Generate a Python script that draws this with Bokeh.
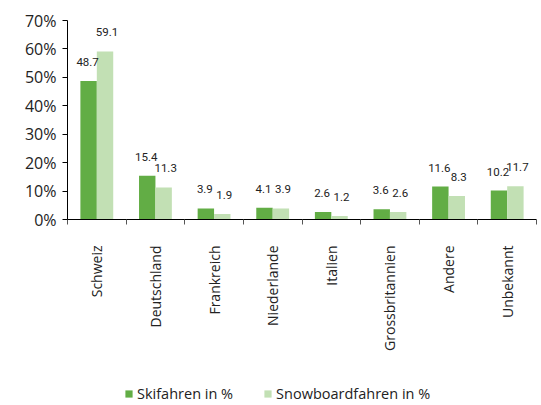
import numpy as np
from bokeh.plotting import figure
from bokeh.layouts import column
from bokeh.models import (Range1d, FixedTicker, PrintfTickFormatter, Legend, LegendItem,
                          ColumnDataSource)
from bokeh.core.properties import value
from bokeh.embed import file_html
from bokeh.resources import INLINE

categories = ["Schweiz", "Deutschland", "Frankreich", "Niederlande", "Italien",
              "Grossbritannien", "Andere", "Unbekannt"]
ski = [48.7, 15.4, 3.9, 4.1, 2.6, 3.6, 11.6, 10.2]
snowboard = [59.1, 11.3, 1.9, 3.9, 1.2, 2.6, 8.3, 11.7]
y_ticks = [0, 10, 20, 30, 40, 50, 60, 70]
series_names = ["Skifahren in %", "Snowboardfahren in %"]

SKI_COLOR = "#62AD45"
SNOW_COLOR = "#C2E0B4"
FONT = "Open Sans"
LABEL_FONT = "Roboto"

n = len(categories)
pos = np.arange(n) + 0.5
off = 0.14
bw = 0.28

p = figure(frame_width=469, frame_height=199, output_backend="svg", toolbar_location=None,
           x_range=Range1d(0, n), y_range=Range1d(0, 70),
           min_border_left=67, min_border_right=4, min_border_top=20, min_border_bottom=0)
p.outline_line_color = None
p.xgrid.visible = False
p.ygrid.visible = False

src_ski = ColumnDataSource(dict(x=pos - off, top=ski, lab=["%.1f" % v for v in ski]))
src_snow = ColumnDataSource(dict(x=pos + off, top=snowboard, lab=["%.1f" % v for v in snowboard]))

p.vbar(x="x", top="top", width=bw, source=src_ski, fill_color=SKI_COLOR, line_color=None)
p.vbar(x="x", top="top", width=bw, source=src_snow, fill_color=SNOW_COLOR, line_color=None)

for s, xo in ((src_ski, -1), (src_snow, 2)):
    p.text(x="x", y="top", text="lab", source=s, text_align="center", text_baseline="middle",
           x_offset=xo, y_offset=-19, text_font=value(LABEL_FONT), text_font_size="11.5px",
           text_color="#222222")

# y axis
p.yaxis.ticker = FixedTicker(ticks=y_ticks, minor_ticks=[])
p.yaxis.formatter = PrintfTickFormatter(format="%d%%")
p.yaxis.major_label_text_font = FONT
p.yaxis.major_label_text_font_size = "16px"
p.yaxis.major_label_text_color = "#222222"
p.yaxis.axis_line_color = "black"
p.yaxis.major_tick_line_color = "black"
p.yaxis.major_tick_out = 5
p.yaxis.major_tick_in = 0
p.yaxis.minor_tick_line_color = None
p.yaxis.major_label_standoff = 6

# x axis
p.xaxis.ticker = FixedTicker(ticks=list(pos), minor_ticks=list(np.arange(n + 1)))
p.xaxis.major_label_overrides = {float(v): c for v, c in zip(pos, categories)}
p.xaxis.major_tick_out = 0
p.xaxis.major_tick_in = 0
p.xaxis.minor_tick_out = 5
p.xaxis.minor_tick_in = 0
p.xaxis.minor_tick_line_color = "#555555"
p.xaxis.axis_line_color = "black"
p.xaxis.major_label_orientation = np.pi / 2
p.xaxis.major_label_standoff = 21
p.xaxis.major_label_text_font = FONT
p.xaxis.major_label_text_font_size = "14px"
p.xaxis.major_label_text_color = "#222222"

# legend strip (zero-height proxy bars carry the legend swatches)
p2 = figure(frame_width=540, frame_height=52, output_backend="svg", toolbar_location=None,
            x_range=Range1d(0, 1), y_range=Range1d(0, 1),
            min_border_left=0, min_border_right=0, min_border_top=0, min_border_bottom=0)
p2.outline_line_color = None
p2.axis.visible = False
p2.xgrid.visible = False
p2.ygrid.visible = False
proxy = ColumnDataSource(dict(x=[0.5], top=[0], bottom=[0]))
l1 = p2.vbar(x="x", top="top", bottom="bottom", width=0.0, source=proxy,
             fill_color=SKI_COLOR, line_color=None)
l2 = p2.vbar(x="x", top="top", bottom="bottom", width=0.0, source=proxy,
             fill_color=SNOW_COLOR, line_color=None)
legend = Legend(items=[LegendItem(label=series_names[0], renderers=[l1]),
                       LegendItem(label=series_names[1], renderers=[l2])],
                orientation="horizontal", location=(124, 2),
                glyph_width=9, glyph_height=9, label_standoff=4, spacing=30,
                label_text_font=FONT, label_text_font_size="14.5px", label_text_color="#222222",
                border_line_color=None, background_fill_alpha=0, padding=0, margin=0)
p2.add_layout(legend, "center")

layout = column(p, p2, spacing=0)
open("out.html", "w").write(file_html(layout, INLINE))
